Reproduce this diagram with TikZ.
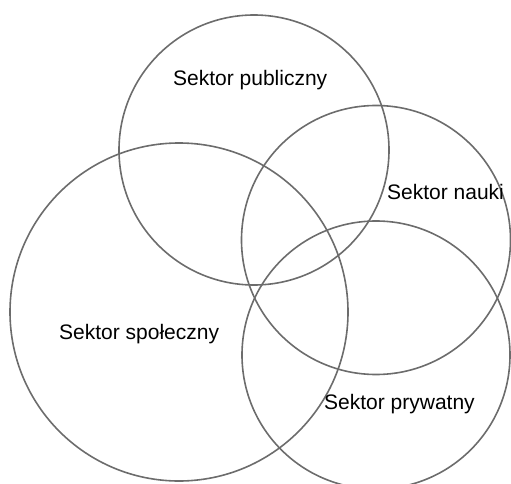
\documentclass[tikz,border=0pt]{standalone}
\usepackage{fontspec}
\setmainfont{Liberation Sans}
\begin{document}
\begin{tikzpicture}[x=1pt,y=-1pt, ring/.style={circle, draw=gray!85!black, line width=1.6pt, inner sep=0pt}, every node/.style={font=\fontsize{21}{25}\selectfont}]
            \useasboundingbox (0,0) rectangle (511,484);
            \clip (0,0) rectangle (511,484);
            \node [ring, minimum size=270] (publiczny) at (254,150) {};
            \node [ring, minimum size=269] (nauki) at (376,240) {};
            \node [ring, minimum size=338] (spoleczny) at (179,312) {};
            \node [ring, minimum size=268] (prywatny) at (376,355) {};
            \node [anchor=base west, inner sep=0pt] (publicznyTxt) at (173,86) {Sektor publiczny};
            \node [anchor=base west, inner sep=0pt] (naukiTxt) at (387,199) {Sektor nauki};
            \node [anchor=base west, inner sep=0pt] (spolecznyTxt) at (59,339) {Sektor społeczny};
            \node [anchor=base west, inner sep=0pt] (prywatnyTxt) at (324,409) {Sektor prywatny};
        \end{tikzpicture}
\end{document}
